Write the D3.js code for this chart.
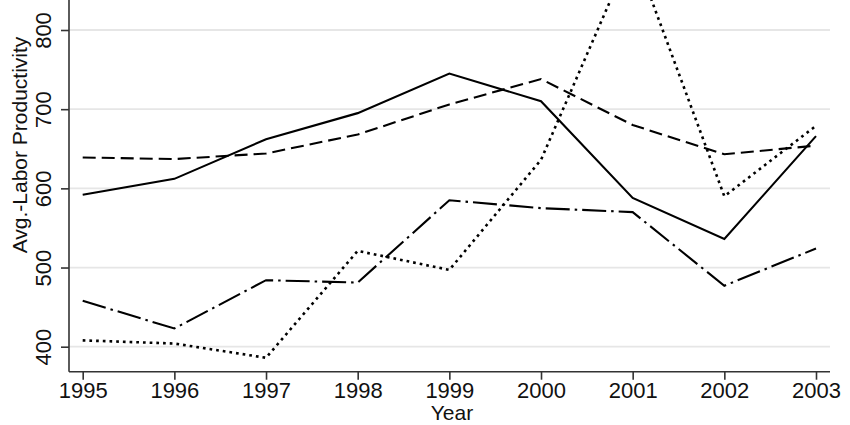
<!DOCTYPE html>
<html>
<head>
<meta charset="utf-8">
<script src="https://cdn.jsdelivr.net/npm/d3@7"></script>
<style>
  html, body { margin: 0; padding: 0; background: #fff; }
  svg { display: block; }
  text { font-family: "Liberation Sans", Arial, Helvetica, sans-serif; fill: #111; }
</style>
</head>
<body>
<svg id="chart" width="850" height="425"></svg>
<script>
const years = [1995, 1996, 1997, 1998, 1999, 2000, 2001, 2002, 2003];
const seriesSolid   = [592, 612, 662, 695, 745, 710, 588, 536, 666];
const seriesDashed  = [639, 637, 644, 668, 706, 738, 680, 643, 654];
const seriesDotted  = [408, 404, 386, 521, 497, 636, 902, 590, 679];
const seriesDashDot = [458, 423, 484, 481, 585, 575, 570, 477, 524];
const yTicks = [400, 500, 600, 700, 800];
const xTitle = "Year";
const yTitle = "Avg.-Labor Productivity";

const svg = d3.select("#chart");
const left = 69, right = 830, bottom = 371.7;

const x = d3.scaleLinear().domain([1995, 2003]).range([82.7, 816]);
const y = d3.scaleLinear().domain([400, 800]).range([346.7, 30]);

// gridlines
svg.append("g").selectAll("line").data(yTicks).join("line")
  .attr("x1", left).attr("x2", right)
  .attr("y1", d => y(d)).attr("y2", d => y(d))
  .attr("stroke", "#e6e6e6").attr("stroke-width", 1.8);

// lines
const line = d3.line().x((d, i) => x(years[i])).y(d => y(d));
const series = [
  { values: seriesSolid,   dash: null,          w: 2.1 },
  { values: seriesDashed,  dash: "13,6",        w: 2.1 },
  { values: seriesDotted,  dash: "2.7,4",       w: 2.6 },
  { values: seriesDashDot, dash: "24,5,2.5,5",  w: 2.1 }
];
svg.append("g").selectAll("path").data(series).join("path")
  .attr("d", d => line(d.values))
  .attr("fill", "none")
  .attr("stroke", "#000")
  .attr("stroke-width", d => d.w)
  .attr("stroke-dasharray", d => d.dash);

// axes
const xAxis = d3.axisBottom(x).tickValues(years).tickFormat(d3.format("d")).tickSize(8).tickSizeOuter(0);
const gx = svg.append("g").attr("transform", `translate(0,${bottom})`).call(xAxis);
gx.select(".domain").attr("d", `M${left},0H${right}`).attr("stroke", "#333").attr("stroke-width", 1.6);
gx.selectAll(".tick line").attr("stroke", "#333").attr("stroke-width", 1.6);
gx.selectAll(".tick text").attr("y", 26.5).attr("dy", 0).attr("font-size", 22)
  .style("font-family", "'Liberation Sans', Arial, sans-serif").attr("fill", "#111");

const yAxis = d3.axisLeft(y).tickValues(yTicks).tickFormat(d3.format("d")).tickSize(8).tickSizeOuter(0);
const gy = svg.append("g").attr("transform", `translate(${left},0)`).call(yAxis);
gy.select(".domain").attr("d", `M0,-5V${bottom}`).attr("stroke", "#333").attr("stroke-width", 1.6);
gy.selectAll(".tick line").attr("stroke", "#333").attr("stroke-width", 1.6);
gy.selectAll(".tick text")
  .attr("x", null).attr("dy", null)
  .attr("transform", "translate(-18.5,0) rotate(-90)")
  .attr("text-anchor", "middle")
  .attr("font-size", 22)
  .style("font-family", "'Liberation Sans', Arial, sans-serif").attr("fill", "#111");

// titles
svg.append("text").attr("x", 452).attr("y", 420).attr("text-anchor", "middle")
  .attr("font-size", 21).text(xTitle);
svg.append("text").attr("transform", "translate(27,145) rotate(-90)")
  .attr("text-anchor", "middle").attr("font-size", 21).text(yTitle);
</script>
</body>
</html>
